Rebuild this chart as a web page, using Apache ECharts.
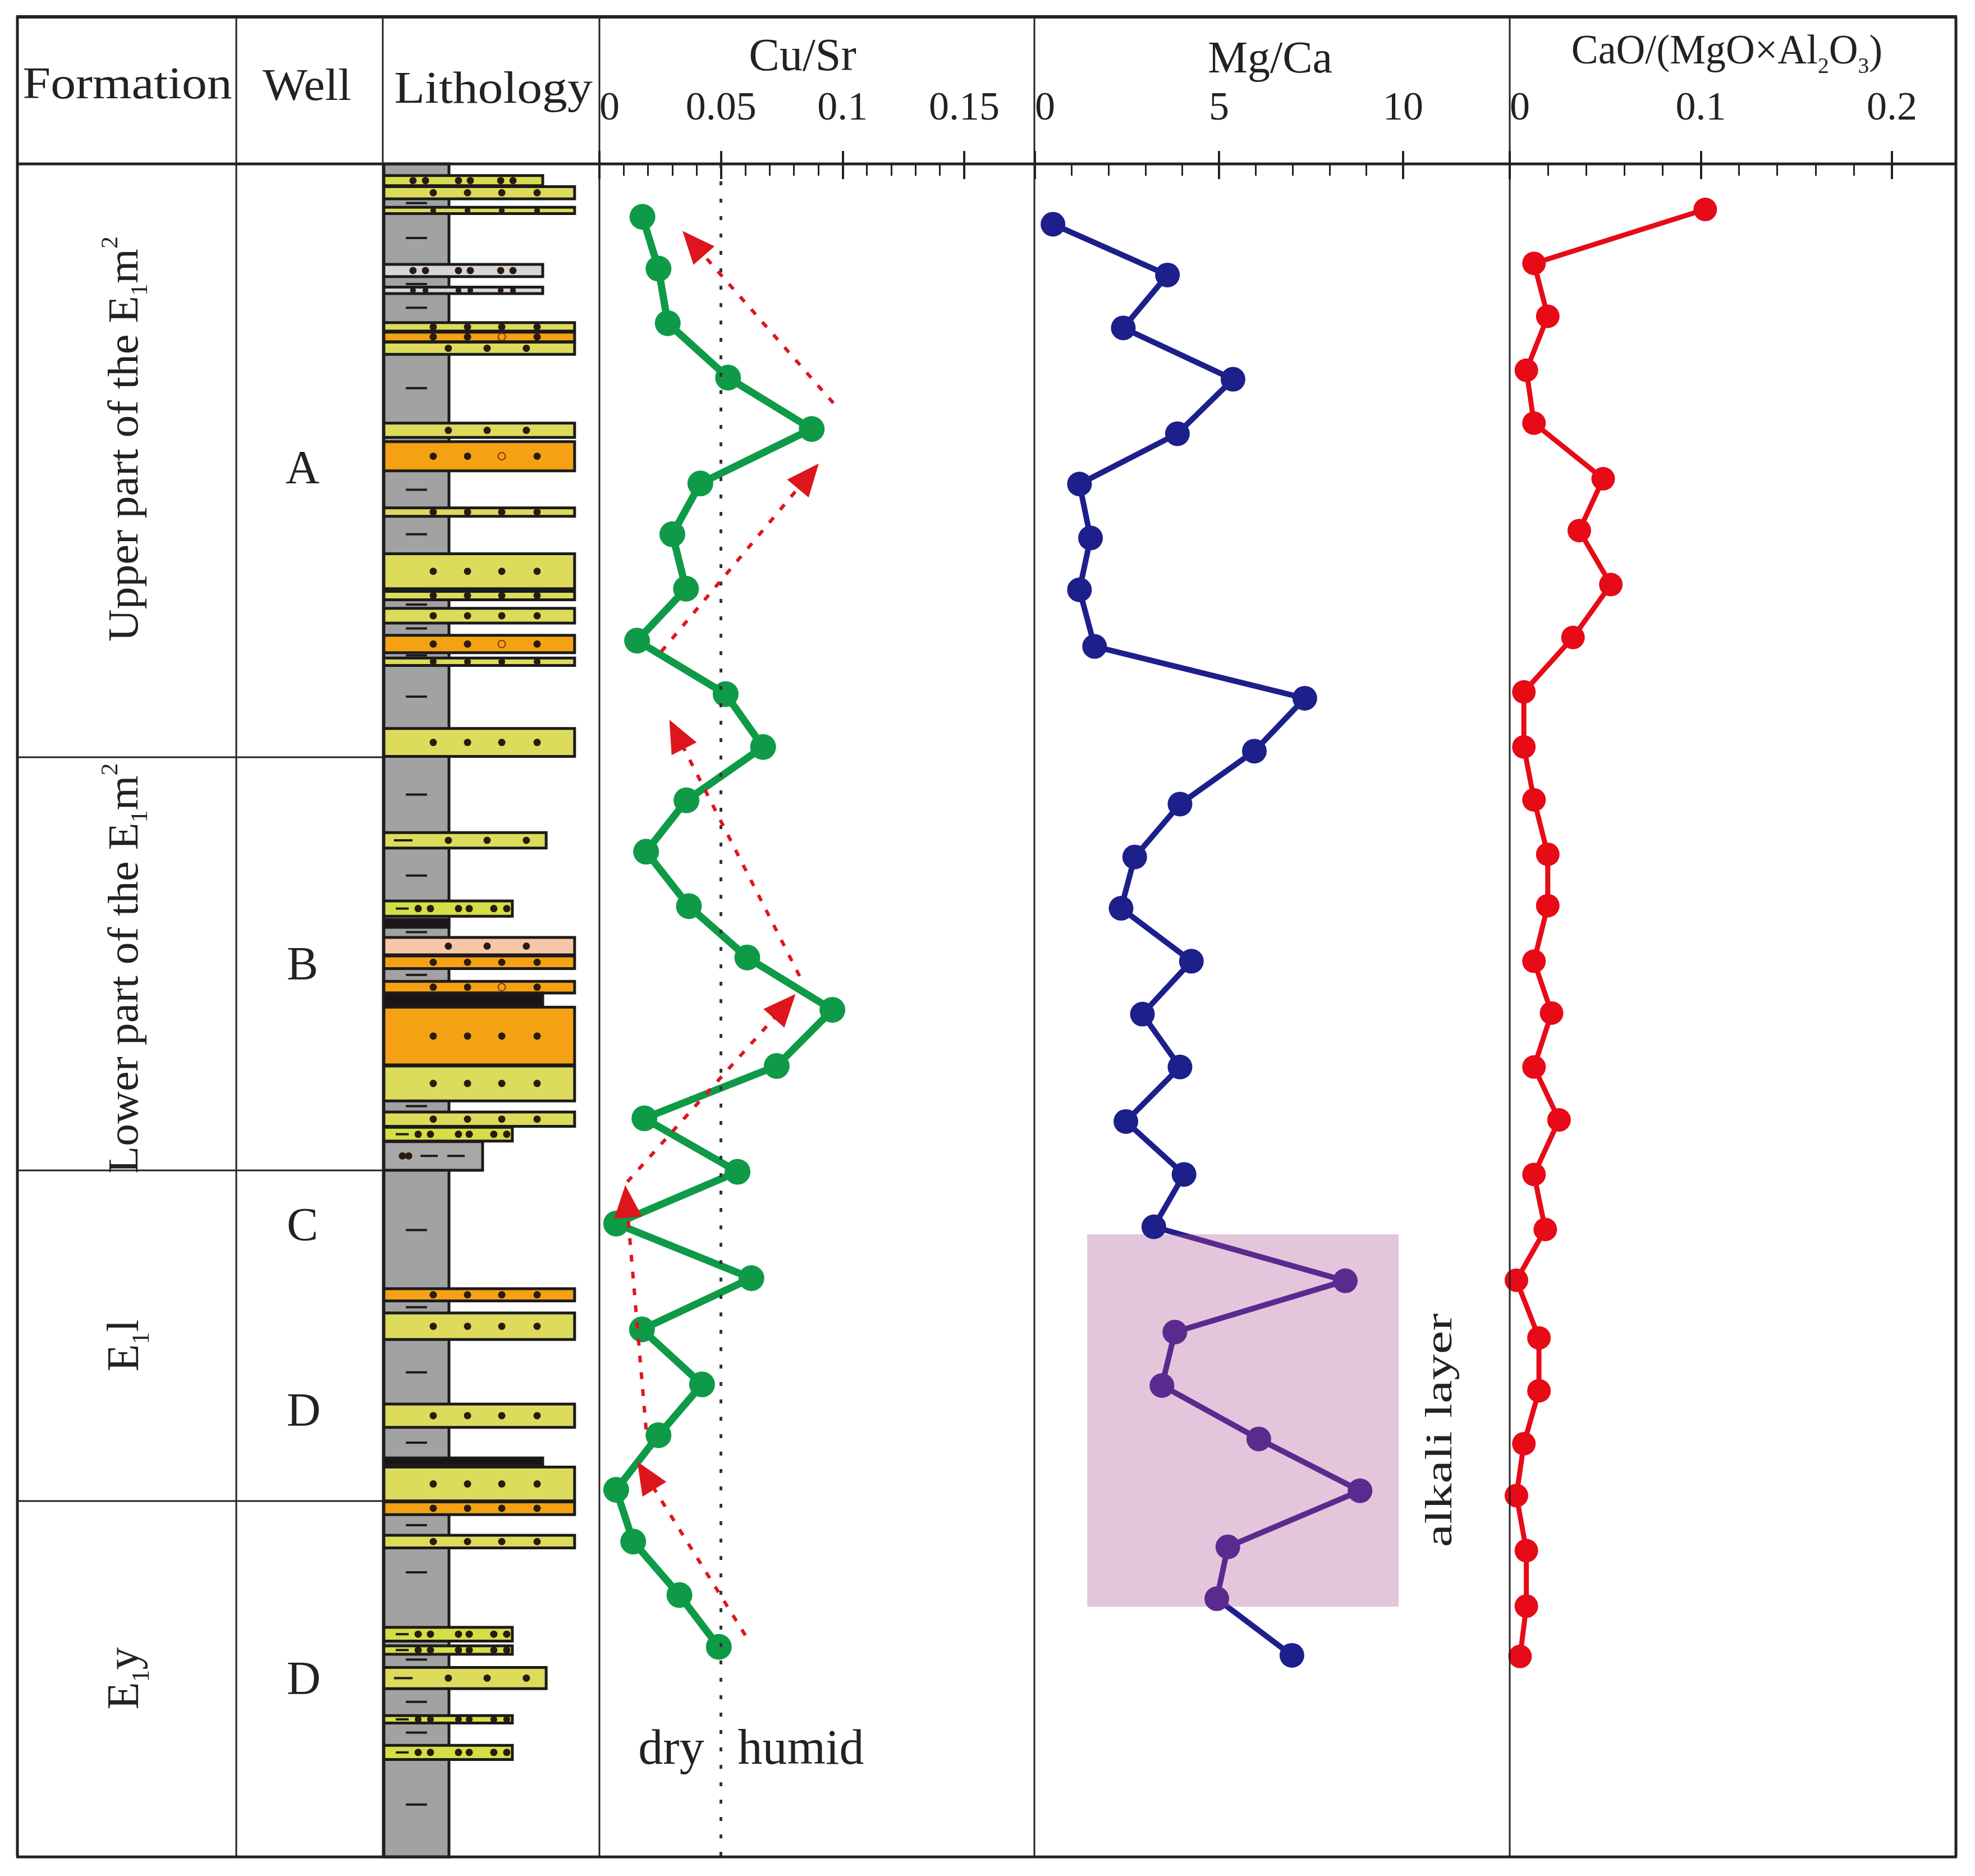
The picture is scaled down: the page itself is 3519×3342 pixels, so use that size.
<!DOCTYPE html>
<html>
<head>
<meta charset="utf-8">
<script src="https://cdn.jsdelivr.net/npm/echarts@6/dist/echarts.min.js"></script>
<style>
  html, body { margin: 0; padding: 0; background: #fff; }
  #chart { width: 3519px; height: 3342px; }
</style>
</head>
<body>
<div id="chart"></div>
<script>
// ---- sample data (depth in relative units, 0 = top of log, 32 = base) ----
var cuSrDepth = [1.0, 1.98, 3.01, 4.04, 5.01, 6.04, 7.0, 8.03, 9.01, 10.02, 11.02, 12.03, 13.0, 14.03,
  15.0, 15.99, 17.05, 18.04, 19.05, 20.03, 21.06, 22.03, 23.07, 24.03, 25.06, 26.04, 27.05, 28.03];
var cuSr = [0.0177, 0.0243, 0.0281, 0.0529, 0.0873, 0.0415, 0.030, 0.0356, 0.0155, 0.0519, 0.0673, 0.0358,
  0.0192, 0.0368, 0.0608, 0.0958, 0.0729, 0.0185, 0.0568, 0.0069, 0.0625, 0.0175, 0.0422, 0.0243, 0.0069,
  0.0139, 0.0329, 0.0491];

var mgCaDepth = [1.14, 2.1, 3.1, 4.07, 5.1, 6.05, 7.07, 8.05, 9.12, 10.1, 11.1, 12.1, 13.1, 14.07,
  15.07, 16.07, 17.07, 18.1, 19.1, 20.09, 21.11, 22.08, 23.09, 24.1, 25.08, 26.14, 27.12, 28.19];
var mgCa = [0.49, 3.6, 2.4, 5.38, 3.87, 1.21, 1.51, 1.21, 1.62, 7.33, 5.96, 3.94, 2.71, 2.34,
  4.25, 2.92, 3.94, 2.47, 4.05, 3.23, 8.43, 3.80, 3.45, 6.08, 8.83, 5.24, 4.94, 6.98];

var caoDepth = [0.86, 1.88, 2.88, 3.9, 4.9, 5.95, 6.93, 7.95, 8.95, 9.98, 11.02, 12.02, 13.05, 14.02,
  15.07, 16.05, 17.07, 18.07, 19.1, 20.14, 21.1, 22.19, 23.19, 24.19, 25.17, 26.21, 27.26, 28.21];
var cao = [0.1023, 0.0127, 0.0199, 0.0087, 0.0127, 0.0489, 0.0364, 0.0529, 0.0331, 0.0074, 0.0074, 0.0127,
  0.0199, 0.0199, 0.0127, 0.0219, 0.0127, 0.0258, 0.0127, 0.0186, 0.0035, 0.0153, 0.0153, 0.0074, 0.0035,
  0.0087, 0.0087, 0.0054];

// trend arrows on Cu/Sr: [fromValue, fromDepth, toValue, toDepth]
var trendArrows = [
  [0.0962, 4.52, 0.0386, 1.50],
  [0.0254, 9.22, 0.0859, 5.90],
  [0.0823, 15.35, 0.0318, 10.78],
  [0.0115, 19.24, 0.0762, 15.92],
  [0.0192, 23.92, 0.0112, 19.61],
  [0.0600, 27.81, 0.0191, 24.79]
];

// alkali layer on Mg/Ca: [minValue, topDepth, maxValue, baseDepth]
var alkaliLayer = [1.42, 20.23, 9.88, 27.27];

// lithology beds: [top, base, grain width (0-100), kind]
var lithBeds = [
  [0, 32, 30.2, 'shale'],
  [0.22, 0.41, 73.7, 'pair'], [0.43, 0.66, 88.5, 'sand'], [0.82, 0.94, 88.5, 'sand'],
  [1.90, 2.13, 73.7, 'pairGray'], [2.33, 2.45, 73.7, 'pairGray'],
  [3.00, 3.16, 88.5, 'sand'], [3.18, 3.36, 88.5, 'orangeO'], [3.37, 3.60, 88.5, 'sand3'],
  [4.90, 5.17, 88.5, 'sand3'], [5.25, 5.80, 88.5, 'orangeO'], [6.50, 6.66, 88.5, 'sand'],
  [7.37, 8.03, 88.5, 'sand'], [8.08, 8.24, 88.5, 'sand'], [8.40, 8.68, 88.5, 'sand'],
  [8.91, 9.24, 88.5, 'orangeO'], [9.34, 9.48, 88.5, 'sand'], [10.67, 11.20, 88.5, 'sand'],
  [12.64, 12.93, 75.3, 'siltSand'], [13.93, 14.22, 59.6, 'silt'], [14.28, 14.43, 30.2, 'coal'],
  [14.62, 14.95, 88.5, 'peach'], [14.97, 15.21, 88.5, 'orange'], [15.45, 15.67, 88.5, 'orangeO'],
  [15.67, 15.94, 73.7, 'coal'], [15.94, 17.03, 88.5, 'orange'], [17.05, 17.71, 88.5, 'sand'],
  [17.92, 18.19, 88.5, 'sand'], [18.21, 18.47, 59.6, 'silt'], [18.48, 19.02, 45.8, 'grayMud'],
  [21.26, 21.49, 88.5, 'orange'], [21.72, 22.22, 88.5, 'sand'], [23.44, 23.88, 88.5, 'sand'],
  [24.46, 24.60, 73.7, 'coal'], [24.63, 25.27, 88.5, 'sand'], [25.29, 25.53, 88.5, 'orange'],
  [25.92, 26.16, 88.5, 'sand'], [27.66, 27.92, 59.6, 'silt'], [28.01, 28.17, 59.6, 'silt'],
  [28.42, 28.82, 75.3, 'siltSand'], [29.33, 29.47, 59.6, 'silt'], [29.89, 30.16, 59.6, 'silt']
];
var shaleMarks = [0.74, 1.40, 2.27, 2.72, 4.24, 6.16, 7.0, 8.33, 8.78, 9.29, 10.07, 11.92, 13.45, 14.52,
  15.33, 17.81, 20.15, 21.61, 22.84, 24.17, 25.73, 26.62, 28.27, 29.07, 29.65, 31.01];

var cuSrTicks = [0, 0.15, 0.05];   // min, max, major interval
var mgCaTicks = [0, 10, 5];
var caoTicks = [0, 0.2, 0.1];

// ---- look ----
var FONT = 'Liberation Serif';
var INK = '#222';
var TOP = 292, H = 3016;

var dots4 = [22.9, 38.8, 54.7, 71.1];
var dots3 = [29.9, 47.9, 66.1];
var lithStyle = {
  shale:    { fill: '#a2a2a2' },
  sand:     { fill: '#dcdb5b', dots: dots4 },
  sand3:    { fill: '#dcdb5b', dots: dots3 },
  orange:   { fill: '#f4a114', dots: dots4 },
  orangeO:  { fill: '#f4a114', dots: dots4, hollow: 2 },
  peach:    { fill: '#f6c6a6', dots: dots3 },
  siltSand: { fill: '#dcdb5b', dots: dots3, dashes: [[4.7, 13.3]] },
  silt:     { fill: '#d3df45', dots: [15.9, 21.6, 34.6, 39.6, 51, 57], dashes: [[5.5, 11.5]] },
  pair:     { fill: '#d6de50', dots: [13.5, 19.3, 34.6, 40.1, 54.2, 59.9] },
  pairGray: { fill: '#d6d6d6', dots: [13.5, 19.3, 34.6, 40.1, 54.2, 59.9] },
  grayMud:  { fill: '#a8a8a8', dots: [8.6, 11.5], dashes: [[17, 25], [29.4, 37.5]] },
  coal:     { fill: '#1c1414' }
};

function renderBed (params, api) {
  var bed = lithBeds[params.dataIndex];
  var st = lithStyle[bed[3]];
  var p0 = api.coord([0, bed[0]]);
  var p1 = api.coord([bed[2], bed[1]]);
  var h = p1[1] - p0[1];
  var cy = p0[1] + h / 2;
  var children = [{
    type: 'rect',
    shape: { x: p0[0], y: p0[1], width: p1[0] - p0[0], height: h },
    style: { fill: st.fill, stroke: '#1b1b1b', lineWidth: 5 }
  }];
  (st.dots || []).forEach(function (dx, i) {
    var hollow = st.hollow === i;
    children.push({
      type: 'circle',
      shape: { cx: api.coord([dx, 0])[0], cy: cy, r: Math.min(6.5, h / 2 - 0.5) },
      style: hollow ? { fill: 'none', stroke: '#7a3a10', lineWidth: 2 } : { fill: '#2a1a10' }
    })
  });
  (st.dashes || []).forEach(function (d) {
    children.push({
      type: 'line',
      shape: { x1: api.coord([d[0], 0])[0], y1: cy, x2: api.coord([d[1], 0])[0], y2: cy },
      style: { stroke: '#1b1b1b', lineWidth: 4 }
    })
  });
  return { type: 'group', children: children };
}

function renderShaleMark (params, api) {
  var a = api.coord([10.2, api.value(1)]);
  var b = api.coord([20, api.value(1)]);
  return { type: 'line', shape: { x1: a[0], y1: a[1], x2: b[0], y2: b[1] }, style: { stroke: '#1b1b1b', lineWidth: 4 } };
}

function zip (xs, ys) {
  return xs.map(function (v, i) { return [v, ys[i]] });
}

// two axes per panel: inner minor/major ticks + outer major ticks with labels
function panelAxes (gridIndex, t) {
  var base = { type: 'value', gridIndex: gridIndex, position: 'top', min: t[0], max: t[1], interval: t[2],
    axisLine: { show: false }, splitLine: { show: false } };
  var inner = Object.assign({}, base, {
    axisTick: { show: true, inside: true, length: 27, lineStyle: { color: INK, width: 4 } },
    minorTick: { show: true, splitNumber: 5, length: 21, lineStyle: { color: INK, width: 3 } },
    axisLabel: { show: false }
  });
  var outer = Object.assign({}, base, {
    axisTick: { show: true, inside: false, length: 23, lineStyle: { color: INK, width: 4 } },
    axisLabel: { show: true, margin: 62, fontFamily: FONT, fontSize: 72, color: INK,
      showMinLabel: true, showMaxLabel: true, alignMinLabel: 'left' }
  });
  return [inner, outer];
}

var xAxes = [{ type: 'value', gridIndex: 0, min: 0, max: 100, show: false }]
  .concat(panelAxes(1, cuSrTicks), panelAxes(2, mgCaTicks), panelAxes(3, caoTicks));

var yAxes = [0, 1, 2, 3].map(function (g) {
  return { type: 'value', gridIndex: g, min: 0, max: 32, inverse: true, show: false };
});

var arrowLines = trendArrows.map(function (a) {
  return [
    { coord: [a[0], a[1]], symbol: 'none', lineStyle: { color: '#dd161d', width: 6, type: [12, 18] } },
    { coord: [a[2], a[3]], symbol: 'triangle', symbolSize: [50, 58] }
  ];
});

// ---- table lines and texts ----
var L = 31, R = 3485, T = 30, B = 3308;
var colX = [421, 682, 1068, 1843, 2690];
function hline (y, x1, x2, w) {
  return { type: 'line', z: 100, shape: { x1: x1, y1: y, x2: x2, y2: y }, style: { stroke: INK, lineWidth: w } };
}
function vline (x, w) {
  return { type: 'line', z: 100, shape: { x1: x, y1: T, x2: x, y2: B }, style: { stroke: INK, lineWidth: w } };
}
function label (text, x, y, size, opts) {
  opts = opts || {};
  return {
    type: 'text', z: 110, x: x, y: y, rotation: opts.rot || 0,
    scaleX: opts.sx || 1, scaleY: 1,
    style: {
      text: text, fill: INK, fontFamily: FONT, fontSize: size,
      align: 'center', verticalAlign: 'middle', rich: opts.rich
    }
  };
}
var subRich = function (size) {
  return {
    n: { fontFamily: FONT, fontSize: size, fill: INK, lineHeight: size * 1.25 },
    s: { fontFamily: FONT, fontSize: size * 0.55, fill: INK, verticalAlign: 'bottom', lineHeight: size * 0.55 },
    p: { fontFamily: FONT, fontSize: size * 0.55, fill: INK, verticalAlign: 'top', lineHeight: size * 0.55 }
  };
};

var graphics = [
  hline(T, L - 2, R + 2, 6), hline(TOP, L, R, 5), hline(B, L - 2, R + 2, 5),
  vline(L, 5), vline(R, 5),
  hline(1349, L, colX[1], 3), hline(2085, L, colX[1], 3), hline(2674, L, colX[1], 3)
];
colX.forEach(function (x) { graphics.push(vline(x, 3)) });

graphics.push(
  label('Formation', 227, 154, 80, { sx: 1.12 }),
  label('Well', 547, 157, 80, { sx: 1.06 }),
  label('Lithology', 879, 162, 80, { sx: 1.12 }),
  label('Cu/Sr', 1430, 103, 82),
  label('Mg/Ca', 2263, 108, 80),
  label('{n|CaO/(MgO×Al}{s|2}{n|O}{s|3}{n|)}', 3077, 94, 74, { sx: 0.97, rich: subRich(74) }),
  label('A', 539, 839, 84), label('B', 539, 1723, 84), label('C', 539, 2188, 84),
  label('D', 541, 2518, 84), label('D', 541, 2996, 84),
  label('{n|Upper part of the E}{s|1}{n|m}{p|2}', 225, 782, 76, { rot: Math.PI / 2, sx: 1.05, rich: subRich(76) }),
  label('{n|Lower part of the E}{s|1}{n|m}{p|2}', 225, 1725, 76, { rot: Math.PI / 2, sx: 1.05, rich: subRich(76) }),
  label('{n|E}{s|1}{n|l}', 225, 2397, 80, { rot: Math.PI / 2, rich: subRich(80) }),
  label('{n|E}{s|1}{n|y}', 225, 2990, 80, { rot: Math.PI / 2, rich: subRich(80) }),
  label('dry', 1196, 3119, 88),
  label('humid', 1427, 3119, 88),
  label('alkali layer', 2568, 2548, 68, { rot: Math.PI / 2, sx: 1.37 })
);

var chart = echarts.init(document.getElementById('chart'));
chart.setOption({
  animation: false,
  backgroundColor: '#fff',
  grid: [
    { left: 684, top: TOP, width: 384, height: H },
    { left: 1068, top: TOP, width: 650, height: H },
    { left: 1844, top: TOP, width: 656, height: H },
    { left: 2690, top: TOP, width: 681, height: H }
  ],
  xAxis: xAxes,
  yAxis: yAxes,
  visualMap: [{
    type: 'piecewise', show: false, seriesIndex: 3, dimension: 1,
    pieces: [{ gte: alkaliLayer[1], lte: alkaliLayer[3], color: '#5b2a8e' }],
    outOfRange: { color: '#1d1f8b' }
  }],
  series: [
    {
      type: 'custom', name: 'lithology', xAxisIndex: 0, yAxisIndex: 0,
      renderItem: renderBed, silent: true,
      data: lithBeds.map(function (b) { return [b[2], b[0], b[1]] }),
      encode: { x: 0, y: [1, 2] }
    },
    {
      type: 'custom', name: 'shale marks', xAxisIndex: 0, yAxisIndex: 0,
      renderItem: renderShaleMark, silent: true,
      data: shaleMarks.map(function (d) { return [15, d] }),
      encode: { x: 0, y: 1 }
    },
    {
      type: 'line', name: 'Cu/Sr', xAxisIndex: 1, yAxisIndex: 1,
      data: zip(cuSr, cuSrDepth),
      symbol: 'circle', symbolSize: 46,
      itemStyle: { color: '#0f9a48' },
      lineStyle: { color: '#0f9a48', width: 13 },
      markLine: {
        silent: true, animation: false, symbol: ['none', 'none'],
        label: { show: false },
        data: [{ xAxis: 0.05, lineStyle: { color: '#333', width: 5, type: [7, 24] } }].concat(arrowLines)
      }
    },
    {
      type: 'line', name: 'Mg/Ca', xAxisIndex: 3, yAxisIndex: 2,
      data: zip(mgCa, mgCaDepth),
      symbol: 'circle', symbolSize: 44,
      lineStyle: { width: 10 },
      markArea: {
        silent: true,
        itemStyle: { color: '#e3c6dc' },
        data: [[{ coord: [alkaliLayer[0], alkaliLayer[1]] }, { coord: [alkaliLayer[2], alkaliLayer[3]] }]]
      }
    },
    {
      type: 'line', name: 'CaO/(MgO×Al2O3)', xAxisIndex: 5, yAxisIndex: 3,
      data: zip(cao, caoDepth),
      symbol: 'circle', symbolSize: 42,
      itemStyle: { color: '#e60b16' },
      lineStyle: { color: '#e60b16', width: 9 }
    }
  ],
  graphic: graphics
});
</script>
</body>
</html>
